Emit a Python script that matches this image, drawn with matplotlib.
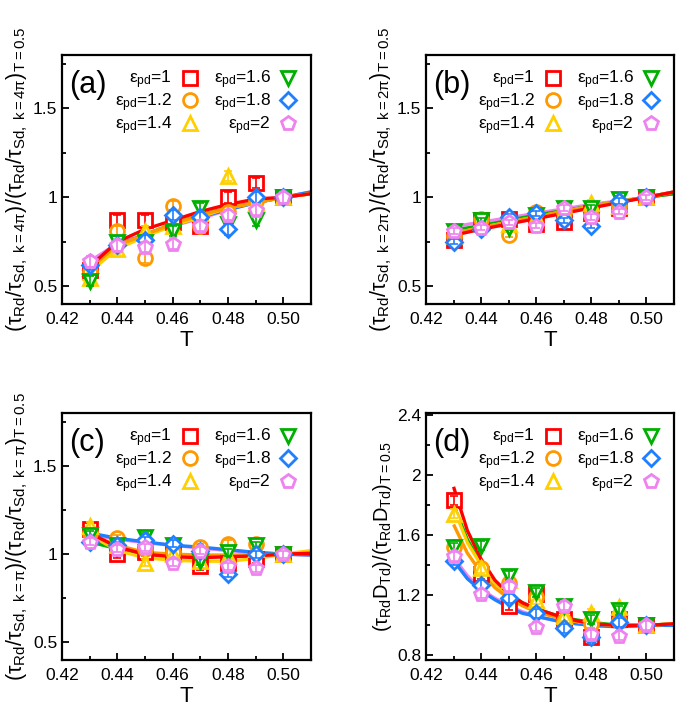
import matplotlib
matplotlib.use("Agg")
import matplotlib.pyplot as plt
from matplotlib.ticker import FixedLocator, FormatStrFormatter

plt.rcParams['font.family'] = ['Liberation Sans', 'DejaVu Sans']
plt.rcParams['mathtext.fontset'] = 'custom'
plt.rcParams['mathtext.rm'] = 'Liberation Sans'
plt.rcParams['mathtext.it'] = 'Liberation Sans'
plt.rcParams['mathtext.bf'] = 'Liberation Sans:bold'

# ---------------- data ----------------
T_data = [0.43, 0.44, 0.45, 0.46, 0.47, 0.48, 0.49, 0.50]
eps_labels = ['1', '1.2', '1.4', '1.6', '1.8', '2']
colors = ['#ff0000', '#ff9900', '#ffd000', '#00b000', '#1e7fff', '#ee82ee']
markers = ['s', 'o', '^', 'v', 'D', 'p']

# panel (a): k = 4pi
a_points = [
    [0.59, 0.87, 0.87, 0.86, 0.84, 1.00, 1.08, 1.00],
    [0.58, 0.81, 0.66, 0.95, 0.84, 0.92, 0.98, 1.00],
    [0.545, 0.71, 0.81, 0.84, 0.91, 1.12, 0.97, 1.00],
    [0.53, 0.75, 0.75, 0.81, 0.94, 0.85, 0.87, 1.00],
    [0.62, 0.73, 0.76, 0.90, 0.89, 0.82, 1.00, 1.00],
    [0.64, 0.73, 0.72, 0.74, 0.84, 0.90, 0.93, 1.00],
]
a_fit_T = [0.4275, 0.43, 0.44, 0.45, 0.46, 0.47, 0.48, 0.49, 0.50, 0.51]
a_fit = [
    [0.56, 0.61, 0.75, 0.82, 0.87, 0.92, 0.96, 0.99, 1.00, 1.02],
    [0.55, 0.60, 0.73, 0.79, 0.85, 0.90, 0.94, 0.97, 1.00, 1.02],
    [0.53, 0.58, 0.71, 0.78, 0.84, 0.89, 0.94, 0.97, 1.00, 1.02],
    [0.55, 0.60, 0.72, 0.79, 0.85, 0.90, 0.94, 0.97, 1.00, 1.02],
    [0.58, 0.62, 0.73, 0.79, 0.84, 0.89, 0.93, 0.97, 1.00, 1.03],
    [0.61, 0.64, 0.74, 0.79, 0.84, 0.88, 0.93, 0.97, 1.00, 1.03],
]
a_err = 0.03

# panel (b): k = 2pi
b_points = [
    [0.76, 0.87, 0.88, 0.85, 0.86, 0.91, 0.94, 1.00],
    [0.78, 0.88, 0.79, 0.92, 0.92, 0.90, 0.95, 1.00],
    [0.78, 0.86, 0.85, 0.89, 0.92, 0.97, 0.95, 1.00],
    [0.81, 0.87, 0.83, 0.90, 0.94, 0.94, 0.99, 1.00],
    [0.75, 0.82, 0.89, 0.91, 0.87, 0.84, 0.98, 1.00],
    [0.81, 0.83, 0.86, 0.84, 0.94, 0.89, 0.92, 1.00],
]
b_fit_T = [0.428, 0.44, 0.46, 0.48, 0.50, 0.51]
b_fit = [
    [0.78, 0.82, 0.88, 0.94, 1.00, 1.03],
    [0.79, 0.83, 0.89, 0.95, 1.00, 1.03],
    [0.79, 0.83, 0.89, 0.95, 1.00, 1.03],
    [0.81, 0.84, 0.90, 0.95, 1.00, 1.02],
    [0.80, 0.84, 0.89, 0.95, 1.00, 1.03],
    [0.83, 0.86, 0.91, 0.96, 1.00, 1.02],
]
b_err = 0.015

# panel (c): k = pi
c_points = [
    [1.14, 1.00, 1.01, 1.01, 0.93, 0.95, 0.97, 1.00],
    [1.12, 1.09, 1.03, 1.01, 1.04, 1.06, 1.06, 1.00],
    [1.16, 1.05, 0.95, 1.00, 0.96, 0.99, 1.03, 1.00],
    [1.11, 1.05, 1.10, 1.05, 0.96, 1.01, 1.05, 1.00],
    [1.07, 1.05, 1.08, 1.06, 1.02, 0.89, 1.00, 1.00],
    [1.07, 1.03, 1.04, 0.95, 1.02, 0.93, 0.92, 1.00],
]
c_fit_T = [0.43, 0.44, 0.45, 0.46, 0.47, 0.48, 0.49, 0.50, 0.51]
c_fit = [
    [1.12, 1.04, 1.00, 0.985, 0.98, 0.985, 0.99, 1.00, 1.005],
    [1.11, 1.05, 1.01, 1.00, 0.995, 0.995, 0.995, 1.00, 1.005],
    [1.11, 1.02, 0.98, 0.965, 0.96, 0.96, 0.975, 1.00, 1.02],
    [1.07, 1.03, 1.00, 0.99, 0.985, 0.99, 0.995, 1.00, 1.00],
    [1.12, 1.09, 1.07, 1.05, 1.04, 1.025, 1.01, 1.00, 0.995],
    [1.11, 1.085, 1.065, 1.05, 1.035, 1.02, 1.01, 1.00, 0.995],
]
c_err = 0.02

# panel (d): tau*D
d_points = [
    [1.83, 1.34, 1.13, 1.21, 1.04, 0.92, 1.04, 1.00],
    [1.52, 1.38, 1.28, 1.19, 1.03, 1.01, 1.03, 1.00],
    [1.74, 1.38, 1.30, 1.17, 1.06, 1.08, 1.12, 1.00],
    [1.52, 1.53, 1.33, 1.22, 1.13, 1.04, 1.10, 1.00],
    [1.43, 1.27, 1.18, 1.08, 0.98, 0.92, 1.02, 1.00],
    [1.46, 1.21, 1.26, 0.99, 1.13, 0.94, 0.93, 1.00],
]
d_fit_T = [0.43, 0.435, 0.44, 0.445, 0.45, 0.455, 0.46, 0.47, 0.48, 0.49, 0.50, 0.51]
d_fit = [
    [1.92, 1.63, 1.44, 1.30, 1.21, 1.15, 1.11, 1.05, 1.01, 1.00, 1.00, 1.01],
    [1.67, 1.48, 1.35, 1.25, 1.18, 1.13, 1.09, 1.04, 1.01, 1.00, 1.00, 1.01],
    [1.78, 1.55, 1.40, 1.28, 1.20, 1.14, 1.10, 1.04, 1.01, 1.00, 1.00, 1.01],
    [1.80, 1.57, 1.41, 1.29, 1.21, 1.15, 1.11, 1.05, 1.02, 1.00, 1.00, 1.01],
    [1.43, 1.31, 1.23, 1.17, 1.12, 1.08, 1.06, 1.02, 1.00, 0.99, 1.00, 1.00],
    [1.45, 1.33, 1.24, 1.18, 1.13, 1.09, 1.06, 1.02, 1.00, 0.99, 1.00, 1.00],
]
d_err = 0.03

x_ticks = [0.42, 0.44, 0.46, 0.48, 0.50]
x_minor = [0.43, 0.45, 0.47, 0.49, 0.51]
y_ticks_abc = [0.5, 1.0, 1.5]
y_minor_abc = [0.75, 1.25, 1.75]
y_ticks_d = [0.8, 1.2, 1.6, 2.0, 2.4]
y_minor_d = [1.0, 1.4, 1.8, 2.2]

ylabel_a = r'$(\tau_{Rd}/\tau_{Sd,\ k=4\pi})/(\tau_{Rd}/\tau_{Sd,\ k=4\pi})_{T=0.5}$'
ylabel_b = r'$(\tau_{Rd}/\tau_{Sd,\ k=2\pi})/(\tau_{Rd}/\tau_{Sd,\ k=2\pi})_{T=0.5}$'
ylabel_c = r'$(\tau_{Rd}/\tau_{Sd,\ k=\pi})/(\tau_{Rd}/\tau_{Sd,\ k=\pi})_{T=0.5}$'
ylabel_d = r'$(\tau_{Rd}D_{Td})/(\tau_{Rd}D_{Td})_{T=0.5}$'

# ---------------- figure ----------------
fig = plt.figure(figsize=(6.81, 7.12), dpi=100)
W, H = 681.0, 712.0

def rect(l, t, r, b):
    return [l / W, 1 - b / H, (r - l) / W, (b - t) / H]

ax_a = fig.add_axes(rect(62, 55, 311, 304))
ax_b = fig.add_axes(rect(426, 55, 674, 304))
ax_c = fig.add_axes(rect(62, 413, 311, 660))
ax_d = fig.add_axes(rect(426, 413, 674, 660))

msizes = [9.5, 10.0, 10.5, 10.5, 8.0, 10.5]


def panel(ax, letter, pts, fitT, fits, err, ylim, yt, ym, ylab, ylabsize):
    for i in reversed(range(6)):
        ax.plot(fitT, fits[i], '-', color=colors[i], lw=2.4, zorder=2,
                solid_capstyle='butt')
    for i in range(6):
        ax.plot(T_data, pts[i], linestyle='none', marker=markers[i],
                ms=msizes[i], mec=colors[i], mfc='white', mew=2.0,
                zorder=3 + i,
                label=r'$\varepsilon_{pd}$=' + eps_labels[i])
        ax.errorbar(T_data, pts[i], yerr=err, fmt='none', ecolor=colors[i],
                    elinewidth=1.2, capsize=3, capthick=1.2, zorder=3.5 + i)
    ax.set_xlim(0.42, 0.51)
    ax.set_ylim(*ylim)
    ax.xaxis.set_major_locator(FixedLocator(x_ticks))
    ax.xaxis.set_minor_locator(FixedLocator(x_minor))
    ax.yaxis.set_major_locator(FixedLocator(yt))
    ax.yaxis.set_minor_locator(FixedLocator(ym))
    ax.xaxis.set_major_formatter(FormatStrFormatter('%.2f'))
    ax.yaxis.set_major_formatter(FormatStrFormatter('%g'))
    ax.tick_params(which='both', direction='in', labelsize=12.5, width=1.3)
    ax.tick_params(which='major', length=5)
    ax.tick_params(which='minor', length=3)
    ax.tick_params(axis='x', which='both', pad=6)
    for s in ax.spines.values():
        s.set_linewidth(1.6)
    ax.set_xlabel('T', fontsize=16, labelpad=2)
    ax.set_ylabel(ylab, fontsize=ylabsize, labelpad=2)
    ax.text(0.03, 0.88, '(' + letter + ')', transform=ax.transAxes,
            fontsize=22, va='center', ha='left')
    h, l = ax.get_legend_handles_labels()
    ax.legend(h, l, loc='upper right', ncol=2, markerfirst=False,
              frameon=False, fontsize=12.5, handlelength=1.0,
              handletextpad=0.5, columnspacing=0.9, labelspacing=0.0,
              borderpad=0.3, borderaxespad=0.5)


panel(ax_a, 'a', a_points, a_fit_T, a_fit, a_err, (0.4, 1.8),
      y_ticks_abc, y_minor_abc, ylabel_a, 15.5)
panel(ax_b, 'b', b_points, b_fit_T, b_fit, b_err, (0.4, 1.8),
      y_ticks_abc, y_minor_abc, ylabel_b, 15.5)
panel(ax_c, 'c', c_points, c_fit_T, c_fit, c_err, (0.4, 1.8),
      y_ticks_abc, y_minor_abc, ylabel_c, 15.5)
panel(ax_d, 'd', d_points, d_fit_T, d_fit, d_err, (0.77, 2.41),
      y_ticks_d, y_minor_d, ylabel_d, 14.5)

fig.savefig('out.png', dpi=100)
